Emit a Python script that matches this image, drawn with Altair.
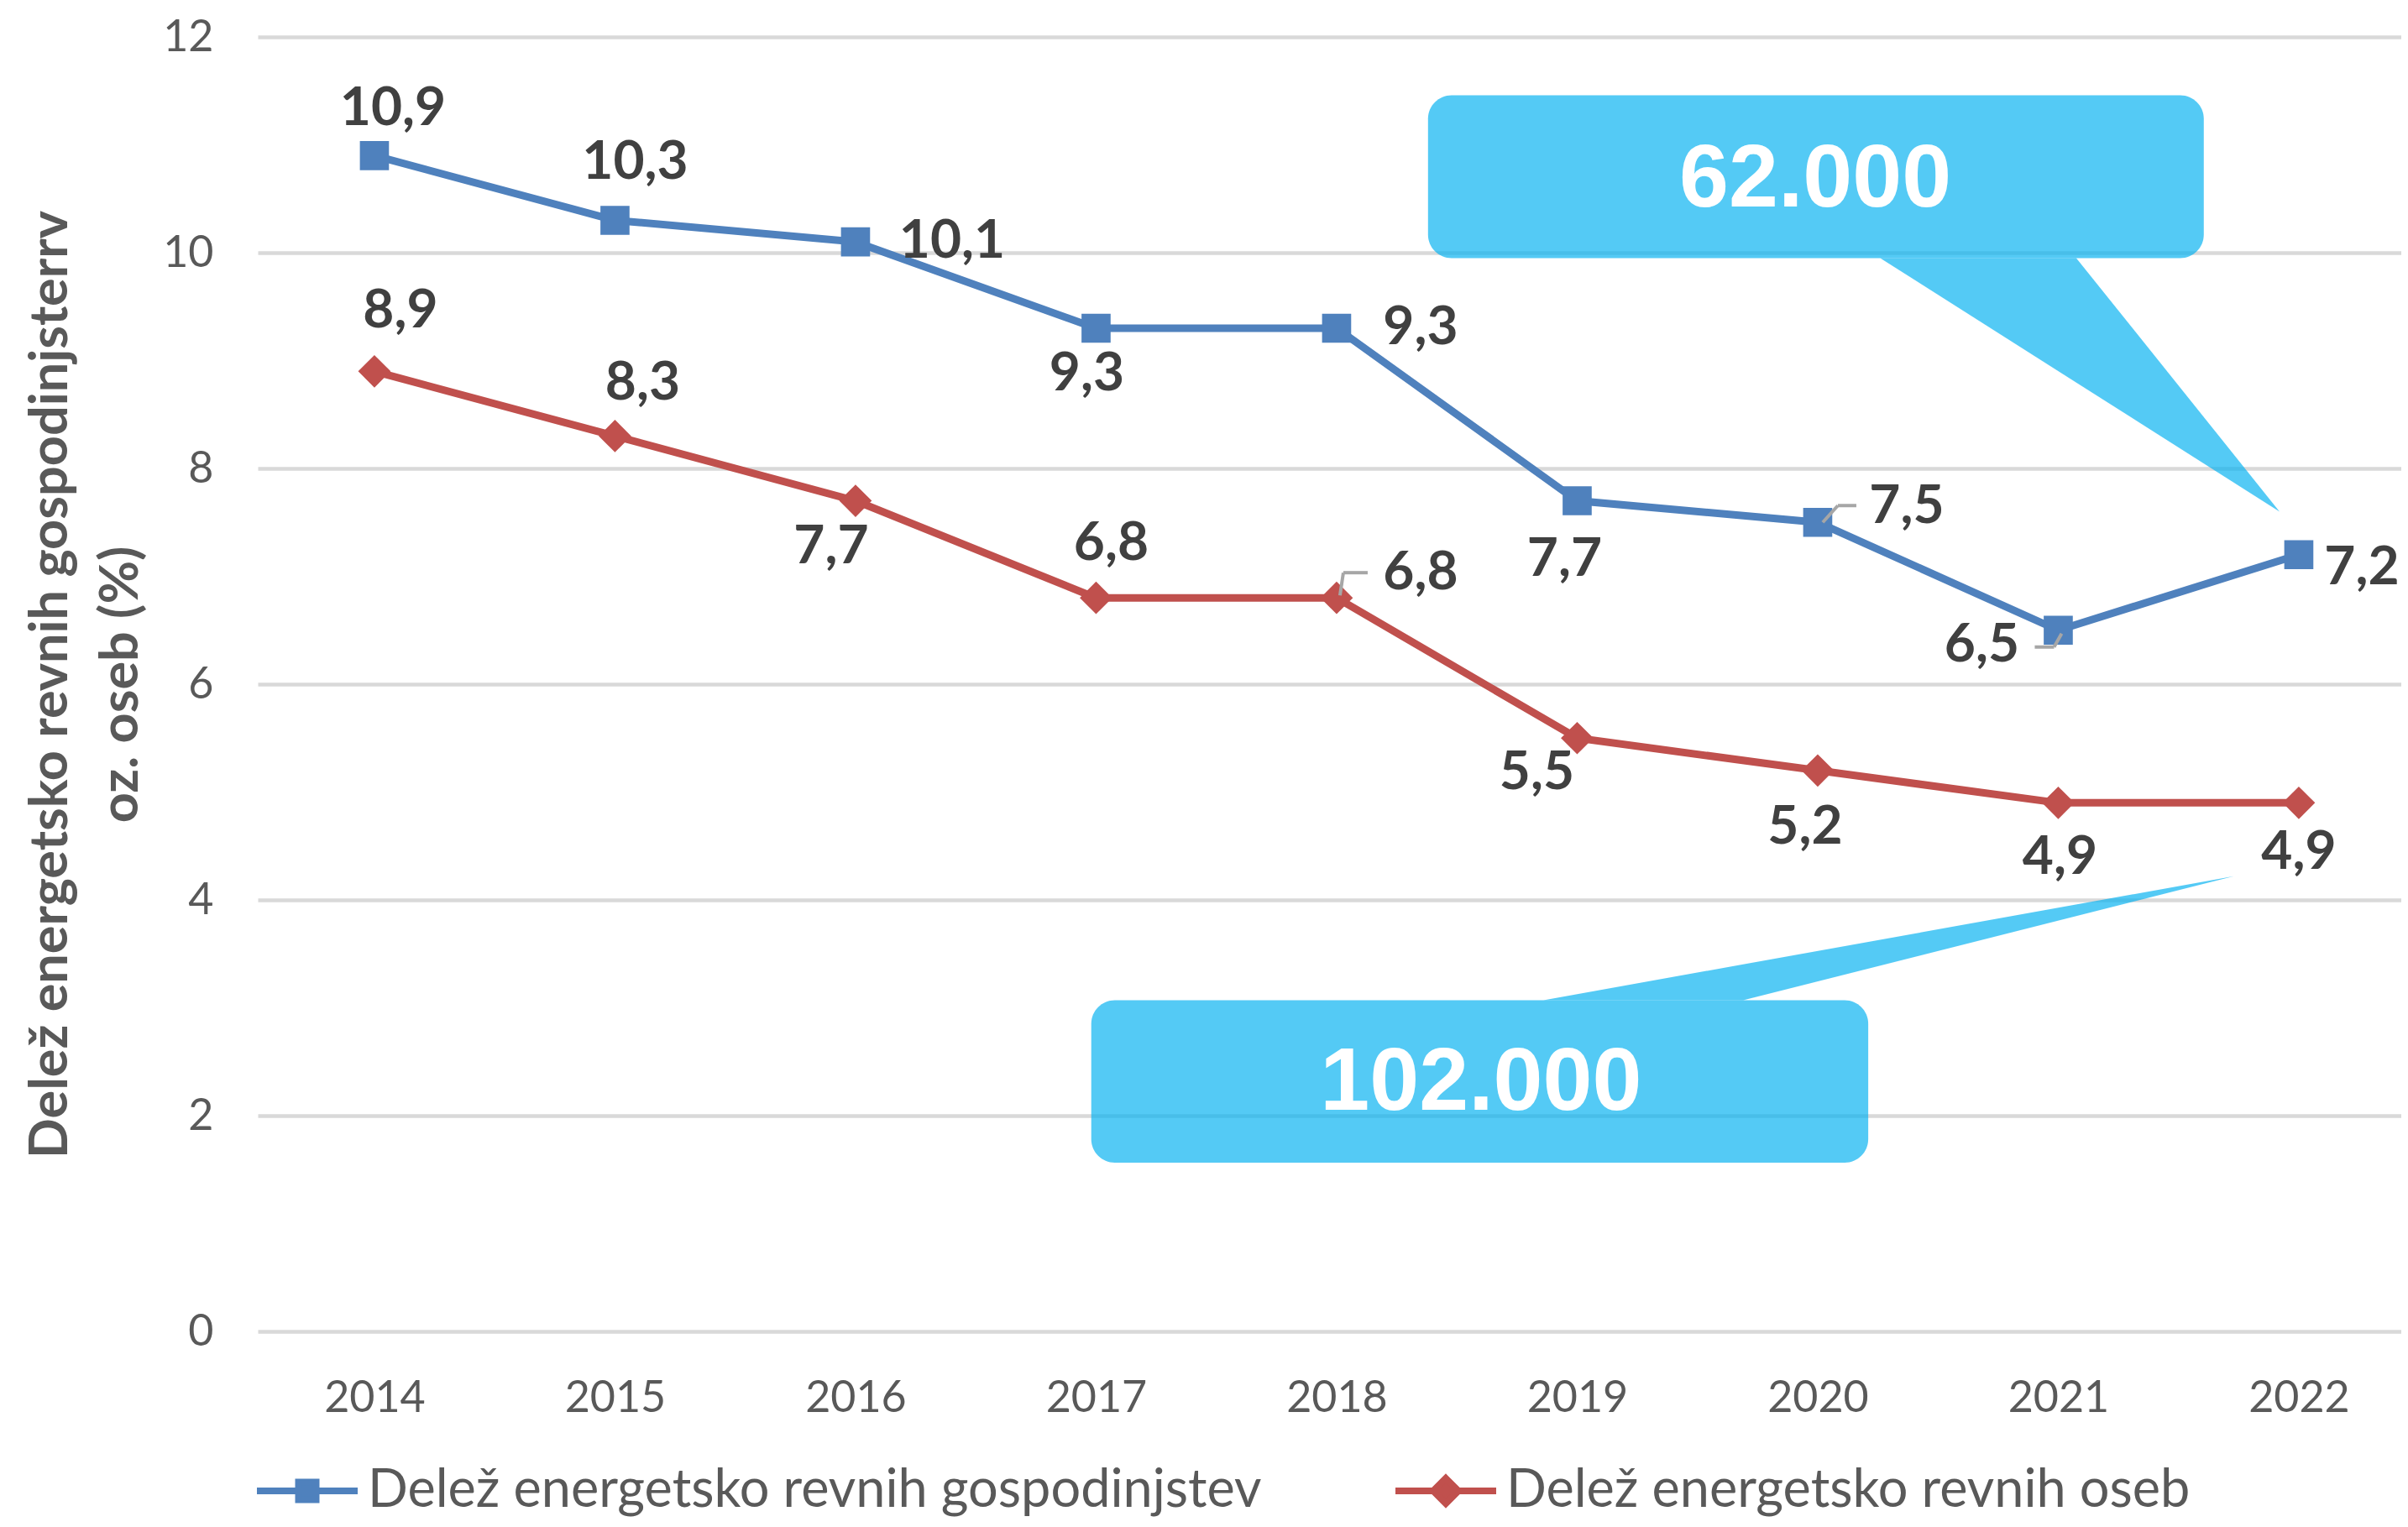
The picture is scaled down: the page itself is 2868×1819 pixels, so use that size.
import altair as alt
import pandas as pd

# ---------------- data ----------------
years = [2014, 2015, 2016, 2017, 2018, 2019, 2020, 2021, 2022]
households = [10.9, 10.3, 10.1, 9.3, 9.3, 7.7, 7.5, 6.5, 7.2]
persons = [8.9, 8.3, 7.7, 6.8, 6.8, 5.5, 5.2, 4.9, 4.9]
series_names = ["Delež energetsko revnih gospodinjstev", "Delež energetsko revnih oseb"]
series_colors = ["#4F81BD", "#C0504D"]
y_ticks = [0, 2, 4, 6, 8, 10, 12]
y_title = ["Delež energetsko revnih gospodinjsterrv", "oz. oseb (%)"]

# data-label offsets (px)
hh_label_dx = [22, 24, 115, -11, 100, -15, 106, -91, 75]
hh_label_dy = [-55, -68, 0, 55, 0, 70, -18, 18, 16]
p_label_dx = [31, 33, -29, 18, 100, -48, -15, 2, 0]
p_label_dy = [-71, -62, 55, -64, -29, 42, 68, 66, 60]

# leader lines (series, year, px offsets of the two segments)
leader_series = [1, 0, 0]
leader_year = [2018, 2020, 2021]
leader_pts = [
    [(4, -3), (8, -30), (37, -30)],
    [(6, 0), (24, -20), (46, -20)],
    [(4, 4), (-5, 20), (-28, 20)],
]

# callouts (in data units)
callout_text = ["62.000", "102.000"]
callout_text_x = [2019.99, 2018.6]
callout_text_y = [10.68, 2.30]
callout_box_x1 = [2018.38, 2016.98]
callout_box_x2 = [2021.605, 2020.21]
callout_box_y1 = [9.95, 1.565]
callout_box_y2 = [11.46, 3.07]
pointer_x = [[2020.26, 2021.075, 2021.92], [2018.86, 2019.69, 2021.73]]
pointer_ytop = [[9.95, 9.95, 7.6], [3.07, 3.4026, 4.22]]
pointer_ybot = [[9.95, 8.796, 7.6], [3.07, 3.07, 4.22]]

# ---------------- tables ----------------
def fmt(v):
    return f"{v:.1f}".replace(".", ",")

rows = []
for s, vals in zip(series_names, [households, persons]):
    for yr, v in zip(years, vals):
        rows.append({"series": s, "year": yr, "value": v, "label": fmt(v)})
df = pd.DataFrame(rows)

X_DOMAIN = [2013.515, 2022.426]
xs = alt.Scale(domain=X_DOMAIN, nice=False, zero=False)
ys = alt.Scale(domain=[0, 12], nice=False)

X = alt.X("year:Q", scale=xs,
          axis=alt.Axis(values=years, format="d", grid=False, domain=False,
                        ticks=False, tickSize=0, labelPadding=54, title=None,
                        labelFontSize=52))
Y = alt.Y("value:Q", scale=ys,
          axis=alt.Axis(values=y_ticks, format="d", grid=True, domain=False, ticks=False,
                        tickSize=0, labelPadding=53, labelFontSize=52,
                        title=y_title, titleFontSize=63, titleFontWeight="bold",
                        titleColor="#595959", titleFont="Lato",
                        titleAngle=270, titleX=-247, titleY=771,
                        titleAlign="center", titleBaseline="middle",
                        titleLineHeight=84))

layers = []

# lines
for s, c in zip(series_names, series_colors):
    layers.append(
        alt.Chart(df).transform_filter(alt.datum.series == s)
        .mark_line(color=c, strokeWidth=9)
        .encode(x=X, y=Y)
    )

# markers
layers.append(
    alt.Chart(df).transform_filter(alt.datum.series == series_names[0])
    .mark_point(shape="square", filled=True, size=1200, opacity=1, color=series_colors[0])
    .encode(x="year:Q", y="value:Q")
)
layers.append(
    alt.Chart(df).transform_filter(alt.datum.series == series_names[1])
    .mark_point(shape="diamond", filled=True, size=1500, opacity=1, color=series_colors[1])
    .encode(x="year:Q", y="value:Q")
)

# legend carrier (its own marks are clipped away, only the legend shows)
path_sq = "M-1,0L1,0M-0.175,-0.175L0.175,-0.175L0.175,0.175L-0.175,0.175Z"
path_di = "M-1,0L1,0M0,-0.25L0.25,0L0,0.25L-0.25,0Z"
legend = alt.Legend(orient="none", legendX=-5, legendY=1668, direction="horizontal",
                    title=None, symbolSize=14400, symbolStrokeWidth=8,
                    symbolOpacity=1, labelFont="Lato", labelFontSize=63,
                    labelColor="#595959", labelOffset=8, columnPadding=143,
                    padding=0, labelLimit=2000)
layers.append(
    alt.Chart(df).transform_calculate(hidden="-5")
    .mark_point(clip=True, filled=True)
    .encode(
        x="year:Q", y="hidden:Q",
        fill=alt.Fill("series:N", scale=alt.Scale(domain=series_names, range=series_colors), legend=legend),
        stroke=alt.Stroke("series:N", scale=alt.Scale(domain=series_names, range=series_colors), legend=legend),
        shape=alt.Shape("series:N", scale=alt.Scale(domain=series_names, range=[path_sq, path_di]), legend=legend),
    )
)

# leader lines
vals_by_series = [households, persons]
for si, yr, pts in zip(leader_series, leader_year, leader_pts):
    v = vals_by_series[si][years.index(yr)]
    one = pd.DataFrame({"year": [yr], "value": [v]})
    for (ax, ay), (bx, by) in zip(pts[:-1], pts[1:]):
        layers.append(
            alt.Chart(one).mark_rule(color="#A6A6A6", strokeWidth=4,
                                     xOffset=ax, yOffset=ay, x2Offset=bx, y2Offset=by)
            .encode(x="year:Q", y="value:Q", x2="year:Q", y2="value:Q")
        )

# data labels
for vals, dxs, dys in [(households, hh_label_dx, hh_label_dy), (persons, p_label_dx, p_label_dy)]:
    for yr, v, dx, dy in zip(years, vals, dxs, dys):
        one = pd.DataFrame({"year": [yr], "value": [v], "label": [fmt(v)]})
        layers.append(
            alt.Chart(one).mark_text(dx=dx, dy=dy, font="Lato", fontWeight="bold",
                                     fontSize=64, color="#404040", baseline="middle",
                                     align="center")
            .encode(x="year:Q", y="value:Q", text="label:N")
        )

# callouts
CALLOUT = "#00B0F0"
boxes = pd.DataFrame({"x1": callout_box_x1, "x2": callout_box_x2,
                      "y1": callout_box_y1, "y2": callout_box_y2})
layers.append(
    alt.Chart(boxes).mark_rect(color=CALLOUT, opacity=0.67, cornerRadius=28)
    .encode(x="x1:Q", x2="x2:Q", y="y1:Q", y2="y2:Q")
)
prow = []
for k in range(2):
    for px, pt, pb in zip(pointer_x[k], pointer_ytop[k], pointer_ybot[k]):
        prow.append({"k": k, "px": px, "pt": pt, "pb": pb})
pdf = pd.DataFrame(prow)
layers.append(
    alt.Chart(pdf).mark_area(color=CALLOUT, opacity=0.67, interpolate="linear")
    .encode(x="px:Q", y="pt:Q", y2="pb:Q", detail="k:N")
)
tdf = pd.DataFrame({"tx": callout_text_x, "ty": callout_text_y, "t": callout_text})
layers.append(
    alt.Chart(tdf).mark_text(font="Liberation Sans", fontWeight="bold", fontSize=106,
                             color="white", baseline="middle", align="center")
    .encode(x="tx:Q", y="ty:Q", text="t:N")
)

chart = (
    alt.layer(*layers)
    .properties(width=2553, height=1542, autosize="none",
                padding={"left": 299, "top": 36, "right": 0, "bottom": 225})
    .configure_view(stroke=None)
    .configure_axis(labelFont="Lato", labelColor="#595959", gridColor="#D9D9D9",
                    gridWidth=4.5)
)

chart.save("out.html", embed_options={"renderer": "svg", "actions": False})
